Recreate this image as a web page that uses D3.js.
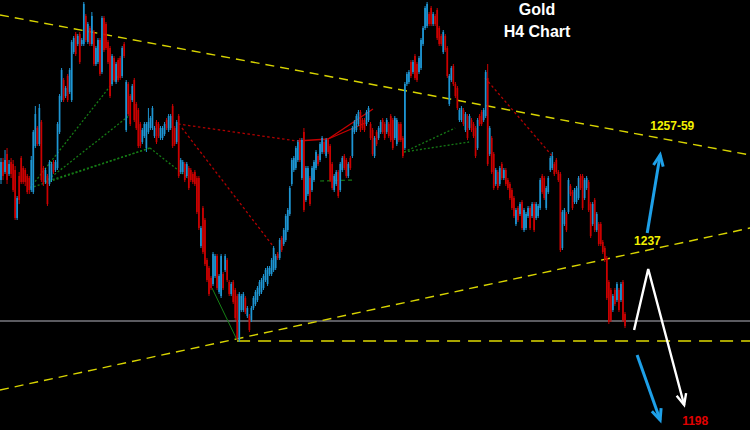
<!DOCTYPE html>
<html><head><meta charset="utf-8">
<script src="https://cdn.jsdelivr.net/npm/d3@7"></script>
<style>html,body{margin:0;padding:0;background:#000;}svg{display:block;}</style>
</head><body>
<svg id="chart" width="750" height="430"></svg>
<script>
const opens = [1258,1262.5,1260,1264.5,1259.5,1262.5,1262,1260.5,1248.5,1259,1263.5,1261,1260.5,1259,1258.5,1255.5,1255,1266.5,1271,1267,1272.5,1261,1257.5,1259,1257,1258,1262.5,1260.5,1261,1270,1278,1283,1279,1284,1280,1278,1290,1294.5,1292,1294.5,1292,1292,1299,1292.5,1296,1292,1295,1287,1287.5,1293,1285,1298.5,1297,1292.5,1291,1282,1288.5,1282.5,1288,1288.5,1284,1292,
1270.5,1282,1279,1278,1283,1277,1275.5,1272,1267.5,1269,1266,1270,1271,1271,1269,1272.5,1272,1268.5,1268.5,1269.5,1273,1270.5,1271,1276.5,1271,1267.5,1274,1260,1260,1262,1259,1261,1260.5,1259.5,1260,1258.5,1258.5,1241.5,1251,1248,1238,1236,
1233.5,1232,1234,1239,1230,1229,1234.5,1235.5,1238,1232.5,1229.5,1232.5,1230.5,1229,1218,1225.5,1225.5,1228.5,1224,1224,1223,1226,1227,1228,1229.5,1230,1231,1233,1232,1234.5,1234.5,1235.5,1236,1239.5,1238.5,1243.5,1242,1243,1245.5,1249.5,1257,1260.5,1261,1263,1268,1258.5,1270,1253,1254.5,1258.5,
1255.5,1258,1261,1264,1263,1265,1267.5,1264,1268,1266.5,1262,1255.5,1257,1260,1255.5,1260.5,1264,1263,1259,1263.5,1264,1270,1270.5,1272,1275,1273,1273,1272,1273,1272,1270.5,1264,1270,1268.5,1270,1273,1272,1270,1272,1274,1273,1268.5,1267,1272,
1272,1268.5,1266,1282,1282.5,1287.5,1285,1289,1287,1285,1286,1292,1296,1296.5,1299.5,1301,1297,1299,1300.5,1296,1294,1290,1294,1291,1277,1283,1286.5,1282,1281,1273,1273,1275.5,1270.5,1274,1271,1273,1272,1271,1266,1274,1275,1273,1274,1283.5,1264.5,1268.5,1264.5,1257,1260,1257,
1262,1258.5,1260.5,1258,1257,1255.5,1253.5,1247,1251,1249.5,1252.5,1245.5,1246,1249,1251,1249,1252,1248.5,1249,1251,1259,1258.5,1251,1255,1260.5,1261,1262,1263,1260,1259.5,1241,1247,1249.5,1250,1256.5,1255,1252.5,1252.5,1253.5,1259,1259,1253.5,1256,1257.5,1252,1247,1253,1245.5,1247,1247,1242.5,1241,1238.5,1232.5,1230.5,1225.5,1230.5,1228,1230.5,1228,1232.5,1224.5];
const highs = [1263.5,1263.5,1265.5,1266,1263,1263.5,1263,1261.5,1254,1260,1264,1261.5,1261,1259.5,1259,1264,1270.5,1276.5,1271.5,1277,1273,1261.5,1261,1259.5,1263,1262.5,1263,1263,1272.5,1279.5,1286,1283.5,1281.5,1284.5,1286,1293,1294,1295,1294.5,1295,1293.5,1302.5,1299.5,1297.5,1296.5,1300,1295.5,1291.5,1293.5,1293.5,1299,1299,1297.5,1293,1291.5,1289.5,1289,1287.5,1288.5,1289,1291.5,1292.5,
1283,1282.5,1279.5,1282,1283.5,1277.5,1276,1272.5,1271,1272.5,1272.5,1276,1274,1276.5,1271.5,1273,1272.5,1271.5,1271.5,1272.5,1273.5,1274.5,1274.5,1277,1271.5,1273,1274.5,1263.5,1263,1262.5,1262.5,1261.5,1261,1260,1260.5,1259,1259,1246.5,1251.5,1248.5,1238.5,1236.5,
1234,1240,1239.5,1239.5,1234.5,1239.5,1235,1239.5,1238.5,1233,1232.5,1233,1231,1229.5,1230,1229.5,1230,1229,1226.5,1224.5,1226.5,1229,1230.5,1231.5,1233,1233.5,1234.5,1236,1236.5,1236.5,1238.5,1241.5,1239.5,1240,1243.5,1244,1246,1249.5,1251,1256.5,1263.5,1264,1266.5,1268,1268.5,1268.5,1271,1261.5,1261.5,1259,
1261.5,1263,1265.5,1264.5,1267.5,1269,1268,1268.5,1268.5,1267,1262.5,1259.5,1260.5,1260.5,1262.5,1264,1264.5,1263.5,1262.5,1264,1271.5,1273,1274.5,1275.5,1275.5,1273.5,1273.5,1275.5,1276.5,1272.5,1271,1269,1270.5,1271.5,1273,1273.5,1272.5,1273.5,1272.5,1274.5,1273.5,1274,1273.5,1272.5,
1272.5,1269,1282.5,1285,1285.5,1288,1288,1289.5,1287.5,1289,1293.5,1296.5,1301.5,1302.5,1300,1301.5,1300,1299.5,1301,1296.5,1294.5,1295.5,1294.5,1291.5,1284.5,1286.5,1287,1282.5,1281.5,1276,1276.5,1276,1275,1274.5,1274.5,1273.5,1272.5,1271.5,1273.5,1274.5,1275.5,1276,1285.5,1287,1271.5,1269,1265,1261,1260.5,1261.5,
1262.5,1261,1261,1258.5,1257.5,1256,1254,1251,1251.5,1252.5,1253,1251,1250,1251.5,1251.5,1252.5,1252.5,1252.5,1252,1258.5,1259.5,1259,1256.5,1259,1264,1265,1262.5,1263.5,1260.5,1260,1250.5,1251,1250,1258.5,1257,1255.5,1256,1256.5,1259,1259.5,1259.5,1258.5,1259,1258,1252.5,1252.5,1253.5,1250,1247.5,1247.5,1243,1241.5,1239,1233,1231,1229.5,1231,1232.5,1231,1232.5,1233,1225];
const lows = [1257,1258,1259.5,1257,1259,1258.5,1255,1248,1248,1252,1257,1257,1256.5,1254.5,1254.5,1255,1254.5,1266,1266.5,1266.5,1257.5,1256.5,1257,1251.5,1256.5,1257.5,1259.5,1260,1260.5,1269.5,1277.5,1277.5,1278.5,1277.5,1279.5,1277.5,1289.5,1289,1291.5,1287,1291.5,1291.5,1292.5,1292,1291.5,1291.5,1286.5,1286.5,1287,1284,1284.5,1290,1290.5,1287,1278.5,1281.5,1282.5,1282,1282.5,1283,1283.5,1288.5,
1270,1274,1271.5,1277.5,1272.5,1270.5,1266,1266,1267,1268.5,1265,1269.5,1270.5,1270.5,1268.5,1267,1268.5,1268,1268,1269,1270.5,1270,1270.5,1266,1266.5,1267,1258.5,1259.5,1259.5,1257.5,1258.5,1255.5,1257.5,1257,1256.5,1249.5,1245.5,1241,1239.5,1236.5,1232.5,1229,
1230.5,1231.5,1233.5,1230.5,1229.5,1228.5,1230.5,1235,1232.5,1229,1229,1227,1223,1218,1217.5,1225,1225,1224.5,1223.5,1220,1222.5,1225.5,1226.5,1227.5,1229,1229.5,1230.5,1232.5,1231.5,1234,1234,1235,1235.5,1238,1238,1240,1241.5,1242.5,1245,1249,1256.5,1260,1260.5,1262.5,1262.5,1258,1250,1252.5,1254,1251.5,
1255,1257.5,1260.5,1261.5,1262.5,1264.5,1264.5,1263.5,1264.5,1257.5,1255.5,1255,1256.5,1253.5,1255,1260,1260.5,1258.5,1258.5,1260.5,1263.5,1269.5,1270,1271.5,1270,1270.5,1270,1271.5,1272.5,1268,1264,1263.5,1266.5,1268,1269.5,1269.5,1268,1269.5,1268.5,1267.5,1265.5,1268,1266.5,1267.5,
1267.5,1263.5,1265.5,1281.5,1282,1283.5,1284.5,1283,1282.5,1284.5,1285.5,1291.5,1295.5,1296,1296.5,1296.5,1296.5,1296.5,1293,1291.5,1291.5,1289.5,1290,1283.5,1276.5,1282.5,1281.5,1278.5,1275.5,1272.5,1272.5,1271.5,1270,1268,1270.5,1270,1268.5,1263.5,1265.5,1271.5,1271.5,1272.5,1273.5,1261.5,1264,1259.5,1255.5,1256.5,1255.5,1256.5,
1258,1258,1256.5,1255.5,1253,1250.5,1248.5,1246.5,1247.5,1249,1245.5,1245,1245.5,1248.5,1245.5,1248.5,1245,1248,1248.5,1250.5,1254.5,1253,1250.5,1254.5,1260,1260.5,1259,1259.5,1257.5,1240,1240.5,1246.5,1245,1249.5,1254,1250.5,1252,1252,1253,1255.5,1250.5,1253,1255.5,1250,1243.5,1246.5,1245,1245,1241.5,1241.5,1239.5,1237.5,1228,1222,1222.5,1225,1226.5,1227.5,1225,1227.5,1222.5,1221];
const closes = [1262.5,1259,1263,1258,1262,1259.5,1255.5,1248.5,1253.5,1253,1257.5,1257.5,1257.5,1255,1255.5,1263,1270,1274.5,1267,1276,1258,1257,1260.5,1252,1262.5,1262,1260,1262.5,1272,1279,1285.5,1278,1281,1278,1285.5,1292.5,1293.5,1289.5,1294,1287.5,1293,1302,1293,1297,1292,1299,1287,1291,1293,1284.5,1298.5,1290.5,1291,1287.5,1279,1289,1283,1287,1283,1283.5,1291,1289,
1282.5,1274.5,1272,1281.5,1273,1271,1266.5,1266.5,1270.5,1272,1272,1272.5,1273.5,1276,1271,1267.5,1269,1271,1271,1272,1271,1274,1274,1266.5,1267,1272.5,1259,1263,1262.5,1258,1262,1256,1258,1257.5,1257,1250,1246,1246,1240,1237,1233,1229.5,
1231,1239.5,1239,1231,1234,1239,1231,1239,1233,1229.5,1232,1227.5,1223.5,1218.5,1229.5,1229,1229.5,1225,1226,1220.5,1226,1228.5,1230,1231,1232.5,1233,1234,1235.5,1236,1236,1238,1241,1239,1238.5,1243,1240.5,1245.5,1249,1250.5,1256,1263,1263.5,1266,1267.5,1263,1268,1250.5,1261,1261,1252,
1261,1262.5,1265,1262,1267,1268.5,1265,1268,1265,1258,1256,1259,1260,1254,1262,1263.5,1261,1259,1262,1261,1271,1272.5,1274,1275,1270.5,1271,1270.5,1275,1276,1268.5,1264.5,1268.5,1267,1271,1272.5,1270,1268.5,1273,1269,1268,1266,1273.5,1273,1268,
1268,1264,1282,1284.5,1285,1284,1287.5,1283.5,1283,1288.5,1293,1296,1301,1302,1297,1297,1299.5,1297,1293.5,1292,1292,1295,1290.5,1284,1284,1286,1282,1279,1276,1275.5,1276,1272,1274.5,1268.5,1274,1270.5,1269,1264,1273,1272,1272,1275.5,1285,1262,1271,1260,1256,1260.5,1256,1261,
1258.5,1260.5,1257,1256,1253.5,1251,1249,1250.5,1248,1252,1246,1250.5,1249.5,1251,1246,1252,1245.5,1252,1251.5,1258,1255,1253.5,1256,1258.5,1263.5,1264,1259.5,1260,1258,1240.5,1250,1250.5,1245.5,1258,1254.5,1251,1255.5,1256,1258.5,1256,1251,1258,1258.5,1250.5,1244,1252,1245.5,1249.5,1242,1242,1240,1238,1228.5,1222.5,1223,1229,1227,1232,1225.5,1232,1223,1221.5];

// trend / support lines as [candle index, price] pairs
const upperTrend = [[-0.5, 1299.25], [371, 1264.25]];
const lowerTrend = [[-0.5, 1205.5], [371, 1246]];
const supportLine = [[-0.5, 1222.75], [371, 1222.75]];
const dashedLevel = [[116.9, 1217.75], [371, 1217.75]];
// harmonic pattern legs
const greenDotted = [
  [[14.4, 1256], [58, 1284]],
  [[21.8, 1257.5], [63.9, 1274.25]],
  [[14.4, 1256], [73.8, 1266]],
  [[21.8, 1257.5], [73.8, 1266]],
  [[73.8, 1266], [92.6, 1258.5]],
  [[199.6, 1265], [224.9, 1271]],
  [[199.6, 1265], [231.8, 1267.5]]
];
const greenSolid = [[[104.5, 1231], [116.9, 1218]]];
const greenDashed = [[[158, 1257.75], [174.8, 1258]]];
const redDotted = [
  [[87.7, 1272], [146.6, 1267.75]],
  [[89.6, 1271], [134.7, 1241.5]],
  [[239.7, 1283.5], [273.4, 1263.75]]
];
const redSolid = [
  [[146.6, 1267.75], [162, 1268.25]],
  [[162, 1268.25], [184.2, 1275.75]],
  [[162, 1268.25], [180.3, 1272.25]]
];
// projection arrows
const whitePath = [[313.5, 1220.5], [320.5, 1235.75], [338.3, 1201.75]];
const blueUp = [[320, 1244.75], [326.4, 1264.25]];
const blueDown = [[315, 1214.25], [326.4, 1198]];
const levelLabels = [
  {text: "1257-59", i: 321.5, p: 1270.6, color: "#f2f200"},
  {text: "1237", i: 313.5, p: 1241.75, color: "#f2f200"},
  {text: "1198", i: 337.3, p: 1196.75, color: "#e00000"}
];
const titleLines = ["Gold", "H4 Chart"];

const W = 750, H = 430;
const svg = d3.select("#chart");
svg.append("rect").attr("width", W).attr("height", H).attr("fill", "#000");

const N = closes.length;
const x = d3.scaleLinear().domain([0, N - 1]).range([1, 625]);
const y = d3.scaleLinear().domain([1195.5, 1303]).range([H, 0]);
const line = d3.line().x(d => x(d[0])).y(d => y(d[1]));

function seg(data, color, width, dash, g) {
  (g || svg).append("path").attr("d", line(data)).attr("fill", "none")
    .attr("stroke", color).attr("stroke-width", width)
    .attr("stroke-dasharray", dash || null);
}

// horizontal lines and trend lines
seg(supportLine, "#7a7a80", 1.6);
seg(dashedLevel, "#a8a400", 2.2, "13,8");
seg(upperTrend, "#d8d400", 1.4, "9,6");
seg(lowerTrend, "#d8d400", 1.4, "9,6");

// pattern lines
greenDotted.forEach(d => seg(d, "#157a15", 1.3, "2,2"));
greenSolid.forEach(d => seg(d, "#168016", 1));
greenDashed.forEach(d => seg(d, "#157a15", 1.2, "4,3"));
redDotted.forEach(d => seg(d, "#b00000", 1.3, "2.5,2.5"));
redSolid.forEach(d => seg(d, "#c80000", 1.3));

// candles
const bull = "#1e96d4", bear = "#cc0000";
const cg = svg.append("g");
const idx = d3.range(N);
cg.selectAll("line.w").data(idx).join("line")
  .attr("x1", i => x(i)).attr("x2", i => x(i))
  .attr("y1", i => y(highs[i])).attr("y2", i => y(lows[i]))
  .attr("stroke", i => closes[i] >= opens[i] ? bull : bear)
  .attr("stroke-width", 1);
cg.selectAll("rect.b").data(idx).join("rect")
  .attr("x", i => x(i) - 0.85).attr("width", 1.7)
  .attr("y", i => y(Math.max(opens[i], closes[i])))
  .attr("height", i => Math.max(1, Math.abs(y(opens[i]) - y(closes[i]))))
  .attr("fill", i => closes[i] >= opens[i] ? bull : bear);

// arrows
function arrow(pts, color, width) {
  seg(pts, color, width);
  const a = pts[pts.length - 2], b = pts[pts.length - 1];
  const x1 = x(a[0]), y1 = y(a[1]), x2 = x(b[0]), y2 = y(b[1]);
  const ang = Math.atan2(y2 - y1, x2 - x1), L = 12, s = 0.42;
  const w1 = [x2 - L * Math.cos(ang - s), y2 - L * Math.sin(ang - s)];
  const w2 = [x2 - L * Math.cos(ang + s), y2 - L * Math.sin(ang + s)];
  svg.append("path").attr("d", `M${w1}L${x2},${y2}L${w2}`).attr("fill", "none")
    .attr("stroke", color).attr("stroke-width", width).attr("stroke-linejoin", "miter");
}
arrow(whitePath, "#ffffff", 2.4);
arrow(blueUp, "#1ea0e8", 3);
arrow(blueDown, "#1ea0e8", 3);

// labels
svg.selectAll("text.lvl").data(levelLabels).join("text")
  .attr("x", d => x(d.i)).attr("y", d => y(d.p))
  .attr("fill", d => d.color)
  .attr("font-family", "Liberation Sans, Arial, sans-serif")
  .attr("font-weight", "bold").attr("font-size", 12)
  .text(d => d.text);

svg.selectAll("text.title").data(titleLines).join("text")
  .attr("x", 537).attr("y", (d, k) => 15 + k * 22)
  .attr("text-anchor", "middle").attr("fill", "#fff")
  .attr("font-family", "Liberation Sans, Arial, sans-serif")
  .attr("font-weight", "bold").attr("font-size", 16)
  .text(d => d);
</script>
</body></html>
